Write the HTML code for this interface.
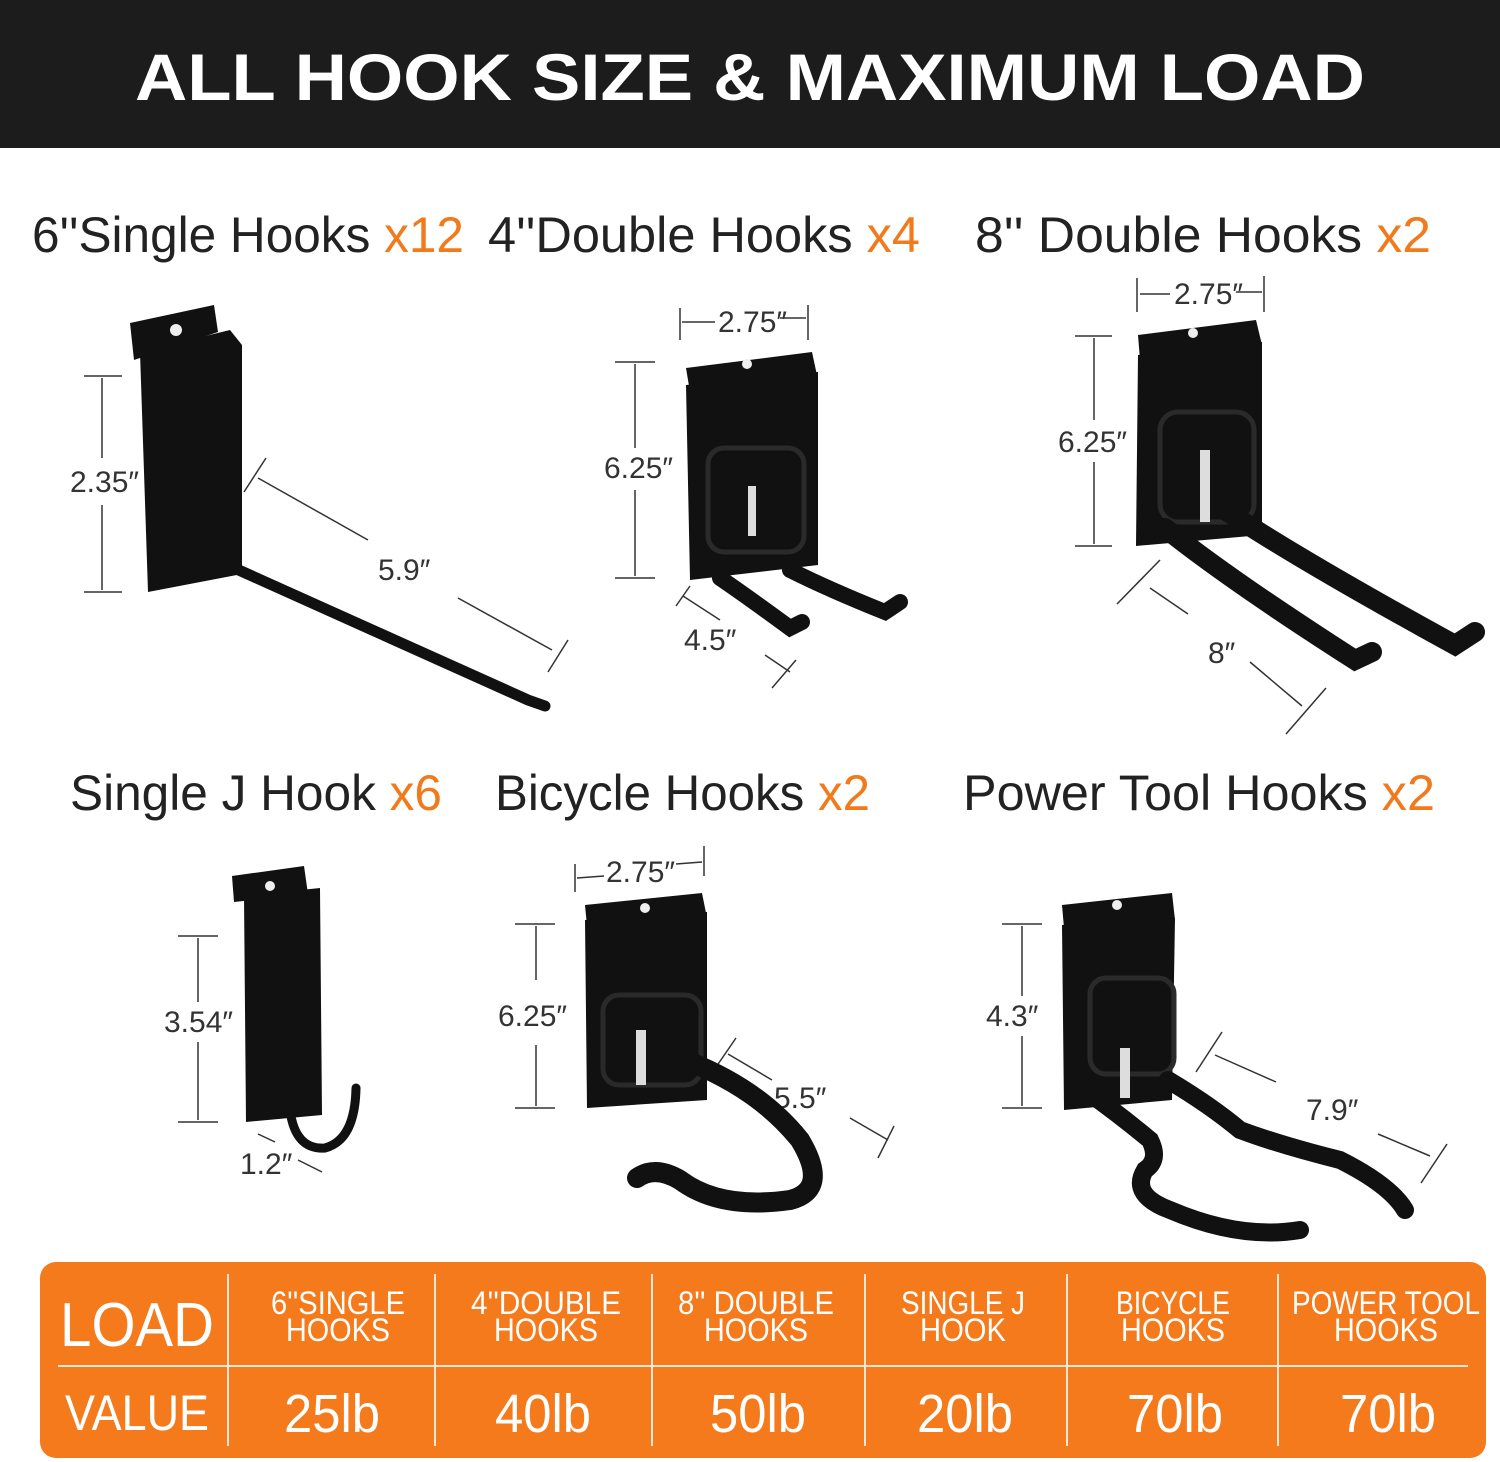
<!DOCTYPE html>
<html><head><meta charset="utf-8"><style>
html,body{margin:0;padding:0;background:#fff;}
svg{display:block}
.t{font-family:"Liberation Sans Narrow","Liberation Sans",sans-serif;}
</style></head><body>
<svg width="1500" height="1462" viewBox="0 0 1500 1462" xmlns="http://www.w3.org/2000/svg">
<rect x="0" y="0" width="1500" height="1462" fill="#fff"/>
<rect x="0" y="0" width="1500" height="148" fill="#1c1c1c"/>
<text x="750" y="100" text-anchor="middle" font-family="Liberation Sans, sans-serif" font-weight="bold" font-size="66" fill="#fff" textLength="1230" lengthAdjust="spacingAndGlyphs">ALL HOOK SIZE &amp; MAXIMUM LOAD</text>

<g class="t" font-size="50" fill="#222">
<text x="32" y="252" textLength="432" lengthAdjust="spacingAndGlyphs">6''Single Hooks <tspan fill="#f07a1c">x12</tspan></text>
<text x="488" y="252" textLength="432" lengthAdjust="spacingAndGlyphs">4''Double Hooks <tspan fill="#f07a1c">x4</tspan></text>
<text x="975" y="252" textLength="456" lengthAdjust="spacingAndGlyphs">8'' Double Hooks  <tspan fill="#f07a1c">x2</tspan></text>
<text x="70" y="810" textLength="372" lengthAdjust="spacingAndGlyphs">Single J Hook  <tspan fill="#f07a1c">x6</tspan></text>
<text x="495" y="810" textLength="375" lengthAdjust="spacingAndGlyphs">Bicycle Hooks <tspan fill="#f07a1c">x2</tspan></text>
<text x="963" y="810" textLength="472" lengthAdjust="spacingAndGlyphs">Power Tool Hooks <tspan fill="#f07a1c">x2</tspan></text>
</g>

<g stroke="#333" stroke-width="1.5" fill="none">
<line x1="84" y1="376" x2="122" y2="376"/><line x1="84" y1="592" x2="122" y2="592"/>
<line x1="102" y1="378" x2="102" y2="458"/><line x1="102" y1="505" x2="102" y2="590"/>
<line x1="244" y1="492" x2="266" y2="458"/><line x1="258" y1="478" x2="368" y2="540"/>
<line x1="458" y1="598" x2="552" y2="650"/><line x1="548" y1="672" x2="568" y2="640"/>
<line x1="680" y1="308" x2="680" y2="340"/><line x1="808" y1="305" x2="808" y2="340"/>
<line x1="682" y1="322" x2="715" y2="322"/><line x1="780" y1="318" x2="806" y2="318"/>
<line x1="615" y1="362" x2="655" y2="362"/><line x1="615" y1="578" x2="655" y2="578"/>
<line x1="635" y1="364" x2="635" y2="448"/><line x1="635" y1="490" x2="635" y2="576"/>
<line x1="676" y1="606" x2="690" y2="586"/><line x1="683" y1="596" x2="720" y2="620"/>
<line x1="765" y1="655" x2="790" y2="672"/><line x1="772" y1="688" x2="796" y2="660"/>
<line x1="1137" y1="278" x2="1137" y2="312"/><line x1="1264" y1="276" x2="1264" y2="312"/>
<line x1="1140" y1="294" x2="1170" y2="294"/><line x1="1236" y1="292" x2="1262" y2="292"/>
<line x1="1075" y1="336" x2="1112" y2="336"/><line x1="1075" y1="546" x2="1112" y2="546"/>
<line x1="1094" y1="338" x2="1094" y2="420"/><line x1="1094" y1="462" x2="1094" y2="544"/>
<line x1="1117" y1="604" x2="1160" y2="560"/><line x1="1150" y1="588" x2="1188" y2="614"/>
<line x1="1250" y1="662" x2="1302" y2="706"/><line x1="1286" y1="734" x2="1326" y2="688"/>
<line x1="178" y1="936" x2="218" y2="936"/><line x1="178" y1="1122" x2="218" y2="1122"/>
<line x1="198" y1="938" x2="198" y2="1002"/><line x1="198" y1="1042" x2="198" y2="1120"/>
<line x1="258" y1="1134" x2="275" y2="1142"/><line x1="298" y1="1160" x2="322" y2="1172"/>
<line x1="575" y1="864" x2="575" y2="892"/><line x1="704" y1="846" x2="704" y2="876"/>
<line x1="577" y1="878" x2="604" y2="876"/><line x1="676" y1="864" x2="702" y2="862"/>
<line x1="515" y1="924" x2="555" y2="924"/><line x1="515" y1="1108" x2="555" y2="1108"/>
<line x1="536" y1="926" x2="536" y2="980"/><line x1="536" y1="1045" x2="536" y2="1106"/>
<line x1="714" y1="1070" x2="736" y2="1038"/><line x1="728" y1="1054" x2="772" y2="1080"/>
<line x1="850" y1="1118" x2="888" y2="1140"/><line x1="878" y1="1158" x2="894" y2="1126"/>
<line x1="1002" y1="924" x2="1042" y2="924"/><line x1="1002" y1="1108" x2="1042" y2="1108"/>
<line x1="1022" y1="926" x2="1022" y2="996"/><line x1="1022" y1="1036" x2="1022" y2="1106"/>
<line x1="1196" y1="1072" x2="1222" y2="1032"/><line x1="1215" y1="1055" x2="1276" y2="1082"/>
<line x1="1378" y1="1134" x2="1430" y2="1156"/><line x1="1421" y1="1183" x2="1447" y2="1144"/>
</g>
<g class="t" font-size="30" fill="#333">
<text x="70" y="492">2.35″</text><text x="378" y="580">5.9″</text>
<text x="718" y="332">2.75″</text><text x="604" y="478">6.25″</text><text x="684" y="650">4.5″</text>
<text x="1174" y="304">2.75″</text><text x="1058" y="452">6.25″</text><text x="1208" y="663">8″</text>
<text x="164" y="1032">3.54″</text><text x="240" y="1174">1.2″</text>
<text x="606" y="882">2.75″</text><text x="498" y="1026">6.25″</text><text x="774" y="1108">5.5″</text>
<text x="986" y="1026">4.3″</text><text x="1306" y="1120">7.9″</text>
</g>

<g fill="#111">
<polygon points="130,323 214,305 218,332 134,360"/>
<polygon points="140,352 230,330 242,345 242,574 148,592"/>
<circle cx="176" cy="330" r="6" fill="#eee"/>
</g>
<path d="M200,428 L200,540 Q200,552 212,558 L528,700 L545,706" stroke="#111" stroke-width="11" fill="none" stroke-linecap="round"/>
<g fill="#111">
<polygon points="686,368 812,352 818,380 690,392"/>
<polygon points="686,385 818,372 818,565 690,580"/>
<circle cx="747" cy="364" r="5" fill="#eee"/>
</g>
<rect x="708" y="448" width="96" height="104" rx="16" fill="none" stroke="#2a2a2a" stroke-width="5"/>
<rect x="748" y="486" width="8" height="50" fill="#ddd"/>
<path d="M720,578 Q745,595 790,628 L802,622 M790,570 Q830,590 885,612 L900,602" stroke="#111" stroke-width="16" fill="none" stroke-linecap="round"/>
<g fill="#111">
<polygon points="1138,335 1256,320 1262,345 1140,360"/>
<polygon points="1138,355 1262,342 1262,535 1136,546"/>
<circle cx="1193" cy="333" r="5" fill="#eee"/>
</g>
<rect x="1160" y="412" width="94" height="110" rx="18" fill="none" stroke="#2a2a2a" stroke-width="5"/>
<rect x="1200" y="450" width="10" height="72" fill="#ddd"/>
<path d="M1165,528 Q1230,580 1355,660 L1372,652 M1225,510 Q1300,560 1455,645 L1475,632" stroke="#111" stroke-width="20" fill="none" stroke-linecap="round"/>
<g fill="#111">
<polygon points="232,876 304,866 308,894 234,902"/>
<polygon points="244,896 320,888 322,1115 246,1122"/>
<circle cx="270" cy="886" r="5" fill="#eee"/>
</g>
<path d="M290,975 L290,1110 Q295,1150 325,1148 Q355,1140 356,1088" stroke="#111" stroke-width="9" fill="none" stroke-linecap="round"/>
<g fill="#111">
<polygon points="585,905 702,893 707,918 587,926"/>
<polygon points="585,920 707,912 707,1100 587,1108"/>
<circle cx="645" cy="908" r="5" fill="#eee"/>
</g>
<rect x="603" y="995" width="98" height="90" rx="16" fill="none" stroke="#2a2a2a" stroke-width="5"/>
<rect x="636" y="1030" width="10" height="55" fill="#ddd"/>
<path d="M690,1062 Q760,1090 800,1140 Q830,1190 790,1200 Q720,1210 680,1180 Q655,1165 637,1178" stroke="#111" stroke-width="20" fill="none" stroke-linecap="round"/>
<g fill="#111">
<polygon points="1062,905 1172,893 1175,920 1064,928"/>
<polygon points="1062,925 1175,918 1172,1100 1064,1110"/>
<circle cx="1117" cy="905" r="5" fill="#eee"/>
</g>
<rect x="1090" y="978" width="84" height="96" rx="16" fill="none" stroke="#2a2a2a" stroke-width="5"/>
<rect x="1120" y="1048" width="10" height="50" fill="#ddd"/>
<path d="M1085,1090 Q1120,1115 1150,1140 Q1160,1160 1145,1170 Q1130,1195 1170,1210 Q1240,1240 1300,1230 M1168,1080 Q1210,1105 1240,1130 Q1280,1145 1340,1160 Q1390,1185 1405,1210" stroke="#111" stroke-width="18" fill="none" stroke-linecap="round"/>

<rect x="40" y="1262" width="1446" height="196" rx="16" fill="#f47a1c"/>
<g stroke="#f8e6d8" stroke-width="2">
<line x1="58" y1="1366" x2="1468" y2="1366"/>
<line x1="228" y1="1274" x2="228" y2="1446"/>
<line x1="435" y1="1274" x2="435" y2="1446"/>
<line x1="652" y1="1274" x2="652" y2="1446"/>
<line x1="865" y1="1274" x2="865" y2="1446"/>
<line x1="1067" y1="1274" x2="1067" y2="1446"/>
<line x1="1278" y1="1274" x2="1278" y2="1446"/>
</g>
<g class="t" fill="#fff" text-anchor="middle" lengthAdjust="spacingAndGlyphs">
<text x="137" y="1346" font-size="62" textLength="154" lengthAdjust="spacingAndGlyphs">LOAD</text>
<text x="137" y="1430" font-size="50" textLength="144" lengthAdjust="spacingAndGlyphs">VALUE</text>
<g font-size="32">
<text x="338" y="1314" textLength="134" lengthAdjust="spacingAndGlyphs">6''SINGLE</text><text x="338" y="1341" textLength="104" lengthAdjust="spacingAndGlyphs">HOOKS</text>
<text x="546" y="1314" textLength="150" lengthAdjust="spacingAndGlyphs">4''DOUBLE</text><text x="546" y="1341" textLength="104" lengthAdjust="spacingAndGlyphs">HOOKS</text>
<text x="756" y="1314" textLength="156" lengthAdjust="spacingAndGlyphs">8'' DOUBLE</text><text x="756" y="1341" textLength="104" lengthAdjust="spacingAndGlyphs">HOOKS</text>
<text x="963" y="1314" textLength="124" lengthAdjust="spacingAndGlyphs">SINGLE J</text><text x="963" y="1341" textLength="86" lengthAdjust="spacingAndGlyphs">HOOK</text>
<text x="1173" y="1314" textLength="114" lengthAdjust="spacingAndGlyphs">BICYCLE</text><text x="1173" y="1341" textLength="104" lengthAdjust="spacingAndGlyphs">HOOKS</text>
<text x="1386" y="1314" textLength="188" lengthAdjust="spacingAndGlyphs">POWER TOOL</text><text x="1386" y="1341" textLength="104" lengthAdjust="spacingAndGlyphs">HOOKS</text>
</g>
<g font-size="54">
<text x="332" y="1432" textLength="96" lengthAdjust="spacingAndGlyphs">25lb</text><text x="543" y="1432" textLength="96" lengthAdjust="spacingAndGlyphs">40lb</text><text x="758" y="1432" textLength="96" lengthAdjust="spacingAndGlyphs">50lb</text>
<text x="965" y="1432" textLength="96" lengthAdjust="spacingAndGlyphs">20lb</text><text x="1175" y="1432" textLength="96" lengthAdjust="spacingAndGlyphs">70lb</text><text x="1388" y="1432" textLength="96" lengthAdjust="spacingAndGlyphs">70lb</text>
</g>
</g>
</svg>
</body></html>
